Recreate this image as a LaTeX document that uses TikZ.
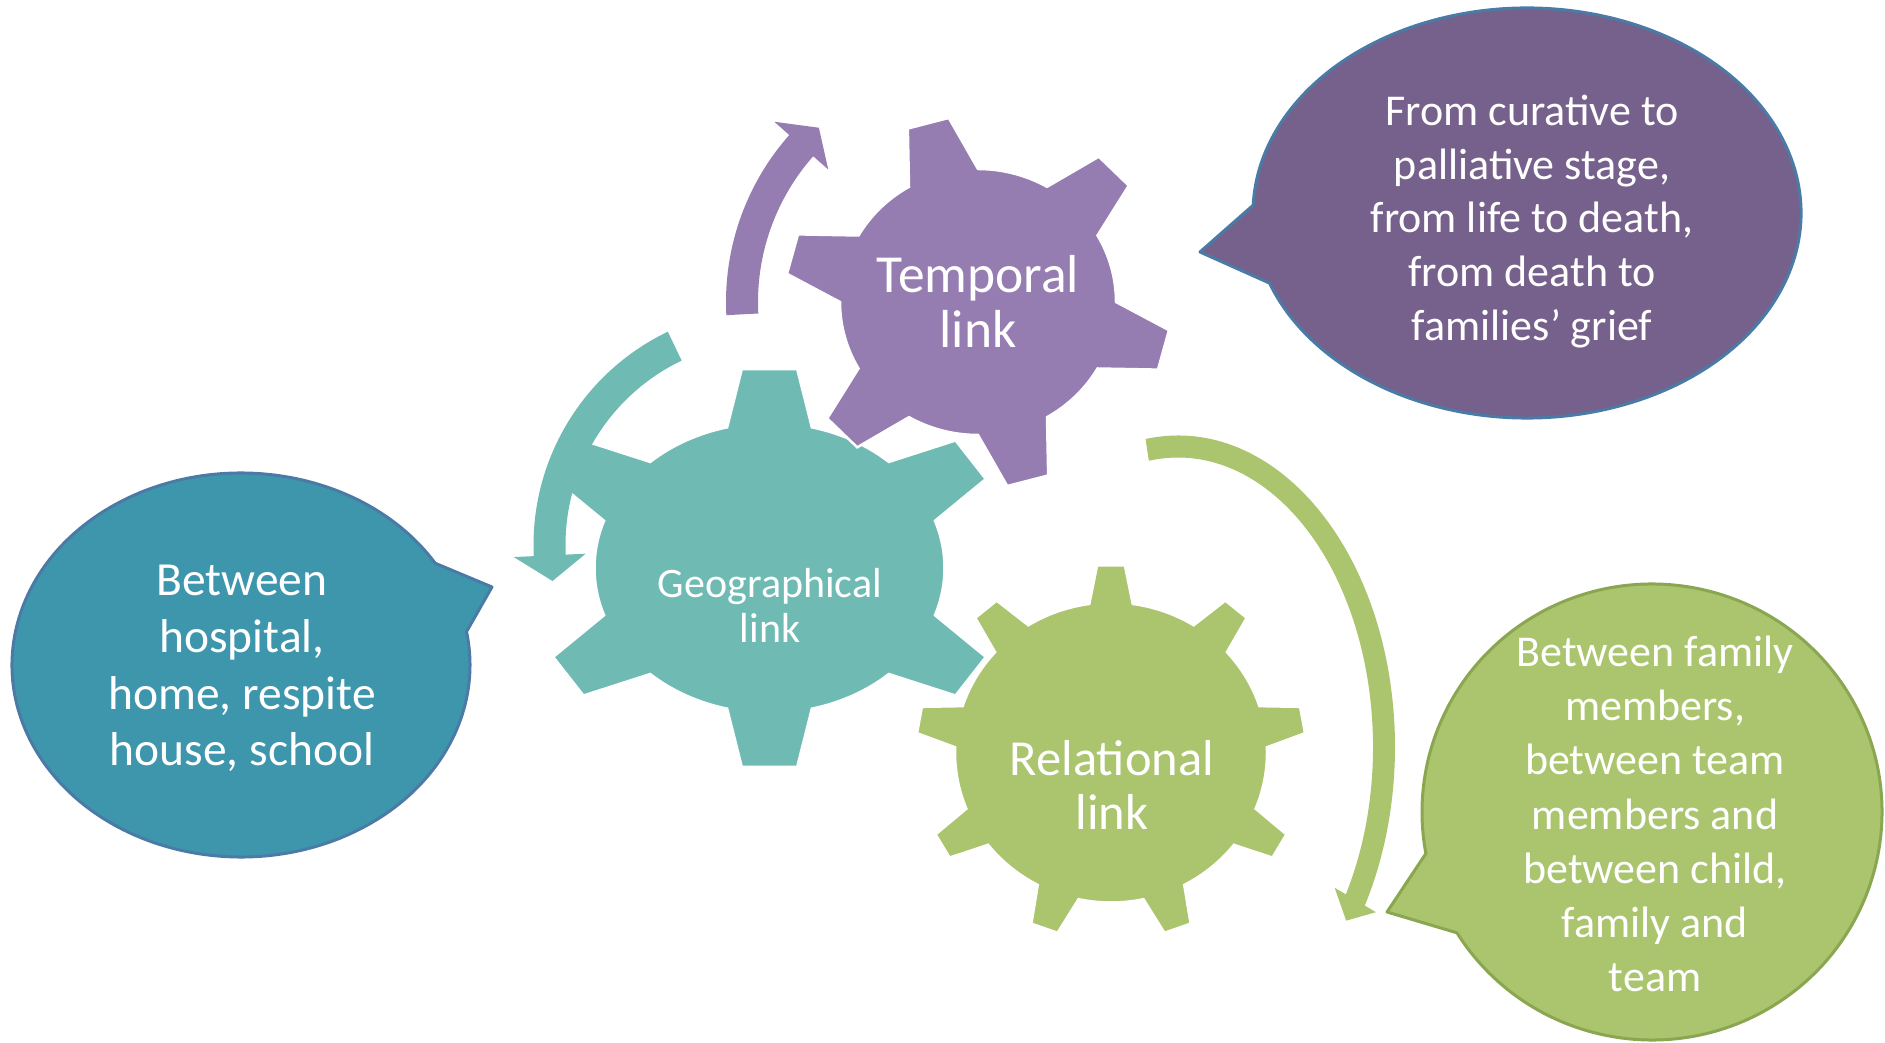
\documentclass[tikz,border=0pt]{standalone}
\usepackage{fontspec}
\setmainfont{Carlito}
\usepackage{tikz}

\definecolor{tempgear}{RGB}{149,124,177}
\definecolor{geogear}{RGB}{111,187,180}
\definecolor{relgear}{RGB}{171,196,110}
\definecolor{tempnote}{RGB}{118,96,140}
\definecolor{geonote}{RGB}{62,150,173}
\definecolor{relnote}{RGB}{171,196,110}
\definecolor{noteline}{RGB}{74,122,166}
\definecolor{relline}{RGB}{139,166,80}

% gear: centre, x radius, y radius, first tooth, other teeth (last = first+360), tip radius, half angle at base, half angle at tip, colour
\newcommand{\drawgear}[9]{%
  \begin{scope}[shift={#1}, xscale=#2, yscale=#3]
    \fill[#9, draw=white, line width=2.5pt]
      ({#4+#7}:1)
      \foreach \a [remember=\a as \b (initially #4)] in {#5}{
        arc[start angle={\b+#7}, end angle={\a-#7}, radius=1]
        -- ({\a-#8}:#6) -- ({\a+#8}:#6) -- ({\a+#7}:1)
      } -- cycle;
  \end{scope}}

% round arrow: centre, x radius, y radius, half width, half head, tail angle, head angle, tip angle, colour
\newcommand{\ringarrow}[9]{%
  \begin{scope}[shift={#1}]
    \pgfmathsetmacro\rxo{#2+#4}\pgfmathsetmacro\ryo{#3+#4}
    \pgfmathsetmacro\rxi{#2-#4}\pgfmathsetmacro\ryi{#3-#4}
    \pgfmathsetmacro\rxh{#2+#5}\pgfmathsetmacro\ryh{#3+#5}
    \pgfmathsetmacro\rxl{#2-#5}\pgfmathsetmacro\ryl{#3-#5}
    \fill[#9] ({#6}:{\rxo} and {\ryo})
      arc[start angle=#6, end angle=#7, x radius=\rxo, y radius=\ryo]
      -- ({#7}:{\rxh} and {\ryh}) -- ({#8}:{#2} and {#3})
      -- ({#7}:{\rxl} and {\ryl}) -- ({#7}:{\rxi} and {\ryi})
      arc[start angle=#7, end angle=#6, x radius=\rxi, y radius=\ryi] -- cycle;
  \end{scope}}

% speech bubble: centre, x radius, y radius, start angle, end angle, tip, fill, line
\newcommand{\speechbubble}[8]{%
  \begin{scope}[shift={#1}]
    \filldraw[fill=#7, draw=#8, line width=3pt, line join=round]
      (#4:#2 and #3) arc[start angle=#4, end angle=#5, x radius=#2, y radius=#3]
      -- #6 -- cycle;
  \end{scope}}

\begin{document}
\begin{tikzpicture}[x=1pt, y=1pt,
    label/.style={text=white, align=center, inner sep=0pt}]
  \useasboundingbox (0,0) rectangle (1885,1042);

  % round arrows and gears
  \ringarrow{(978,740)}{236}{236}{16}{36}{183}{138.5}{132.4}{tempgear}
  \ringarrow{(1178,295)}{206}{300.5}{11}{24}{98.6}{-30.6}{-35.3}{relgear}
  \drawgear{(769.5,474)}{175}{145}{33}{90,147,213,270,327,393}{1.38}{14}{6.6}{geogear}
  \ringarrow{(770,497)}{220.5}{220.5}{16}{36}{115.6}{182.7}{189.4}{geogear}
  \drawgear{(978,740)}{138}{133}{45}{105,165,225,285,345,405}{1.40}{15}{6.3}{tempgear}
  \drawgear{(1111,289.5)}{156}{150}{90}{130,170,210,250,290,330,370,410,450}{1.25}{8}{4.1}{relgear}

  \node[label, font=\fontsize{53.5}{55}\selectfont] (temporal) at (978,741) {Temporal\\link};
  \node[label, font=\fontsize{42}{45}\selectfont] (geographical) at (770,437) {Geographical\\link};
  \node[label, font=\fontsize{50.5}{54}\selectfont] (relational) at (1112,257) {Relational\\link};

  % speech bubbles
  \speechbubble{(1527,829)}{274}{205}{200}{537.8}{(-327,-39)}{tempnote}{noteline}
  \speechbubble{(241,377)}{229}{192}{32}{370}{(251,78)}{geonote}{noteline}
  \speechbubble{(1652,230)}{230}{228}{212}{550.5}{(-265,-100)}{relnote}{relline}

  \node[label, font=\fontsize{44}{53.7}\selectfont] (tempnotetext) at (1532,820.5)
    {From curative to\\palliative stage,\\from life to death,\\from death to\\families’ grief};
  \node[label, font=\fontsize{47.5}{56.7}\selectfont] (geonotetext) at (242,373.5)
    {Between\\hospital,\\home, respite\\house, school};
  \node[label, font=\fontsize{44}{54.2}\selectfont] (relnotetext) at (1655,228)
    {Between family\\members,\\between team\\members and\\between child,\\family and\\team};
\end{tikzpicture}
\end{document}
